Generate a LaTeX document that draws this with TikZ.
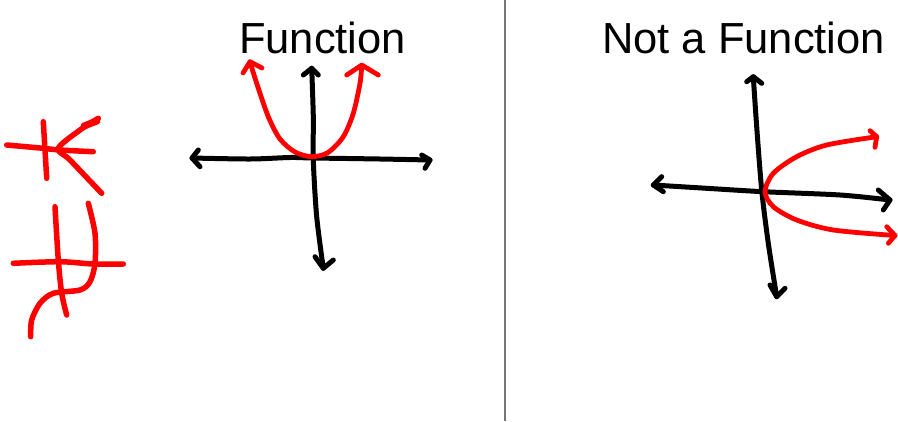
\documentclass[tikz,border=0pt]{standalone}
\usepackage{fontspec}
\setmainfont{Liberation Sans}
\definecolor{divider}{RGB}{118,118,118}
\definecolor{inkred}{RGB}{255,0,0}
\begin{document}
\begin{tikzpicture}[x=1pt,y=-1pt,
  ink/.style={line width=5pt,line cap=round,line join=round},
  axis/.style={ink,black},
  curve/.style={ink,inkred,line width=4.8pt},
  sketch/.style={ink,inkred,line width=5.5pt},
  title/.style={font=\fontsize{43.5}{50}\selectfont,anchor=base,inner sep=0pt}]
\useasboundingbox (0,0) rectangle (898,421);
\fill[white] (0,0) rectangle (898,421);

% divider
\draw[divider,line width=2pt] (505,0) -- (505,421);

% titles
\node[title] (t1) at (322.5,53) {Function};
\node[title] (t2) at (743.5,53) {Not a Function};

% ---- Function graph ----
\draw[axis] plot[smooth] coordinates {(192,158) (250,159) (290,157.5) (313,158) (380,159) (430,160)};
\draw[axis] (198.3,150) -- (192,158) -- (200,166.7);
\draw[axis] (421.7,155) -- (430,160) -- (425,168.3);
\draw[axis] plot[smooth] coordinates {(311.7,68.3) (313.3,116.7) (313.3,160) (316.7,216.7) (323.3,268.3)};
\draw[axis] (303.3,75) -- (311.7,68.3) -- (318.3,75);
\draw[axis] (315,256.7) -- (323.3,268.3) -- (333.3,260);

\draw[curve] plot[smooth] coordinates {(250,62) (256.7,83.3) (268.3,116.7) (280,139) (295,152) (311.7,156.7) (328,152.5) (343.3,136.7) (353.3,113.3) (360,83.3) (361.7,66)};
\draw[curve] (243,73) -- (250,61.7) -- (262,68);
\draw[curve] (346.7,75) -- (361.7,65) -- (378.3,75);

% ---- Not a Function graph ----
\draw[axis] plot[smooth] coordinates {(653.3,185) (706.7,188.3) (763.3,191.7) (840,195) (890,200)};
\draw[axis] (661.7,176.7) -- (653.3,185) -- (663.3,191.7);
\draw[axis] (878.3,190) -- (890,200) -- (883.3,210);
\draw[axis] plot[smooth] coordinates {(753.3,76.7) (756.7,126.7) (761.7,190) (768.3,243.3) (776.7,296.7)};
\draw[axis] (746.7,81.7) -- (753.3,76.7) -- (761.7,83.3);
\draw[axis] (770,285) -- (776.7,296.7) -- (785,288.3);

\draw[curve] plot[smooth] coordinates {(876.7,136.7) (826.7,145) (796.7,156.7) (773.3,173.3) (765,191.7) (773.3,206.7) (796.7,220) (833.3,230) (895,235.5)};
\draw[curve] (870,130.7) -- (876.7,136.7) -- (875,147.3);
\draw[curve] (886.7,226.7) -- (895,235.5) -- (888.3,243.3);

% ---- left red sketches ----
\draw[sketch] plot[smooth] coordinates {(6.7,145) (40,148) (60,150) (93.3,151.7)};
\draw[sketch] plot[smooth] coordinates {(43.3,121.7) (45,150) (46.7,178.3)};
\draw[sketch] plot[smooth] coordinates {(98.3,118.3) (80,130) (58.3,148.3) (70,160) (101.7,193.3)};
\draw[sketch,line width=7pt] (84,126) -- (97,121);

\draw[sketch] plot[smooth] coordinates {(13.3,263.3) (60,261.7) (93,264) (123.3,264)};
\draw[sketch] plot[smooth] coordinates {(55,206.7) (58.3,260) (61.7,293.3) (66.7,315)};
\draw[sketch] plot[smooth] coordinates {(88.3,203.3) (95,233.3) (95,263.3) (90,281.7) (80,290) (53.3,293.3) (40,303.3) (31.7,320) (30.7,336.7)};
\end{tikzpicture}
\end{document}
